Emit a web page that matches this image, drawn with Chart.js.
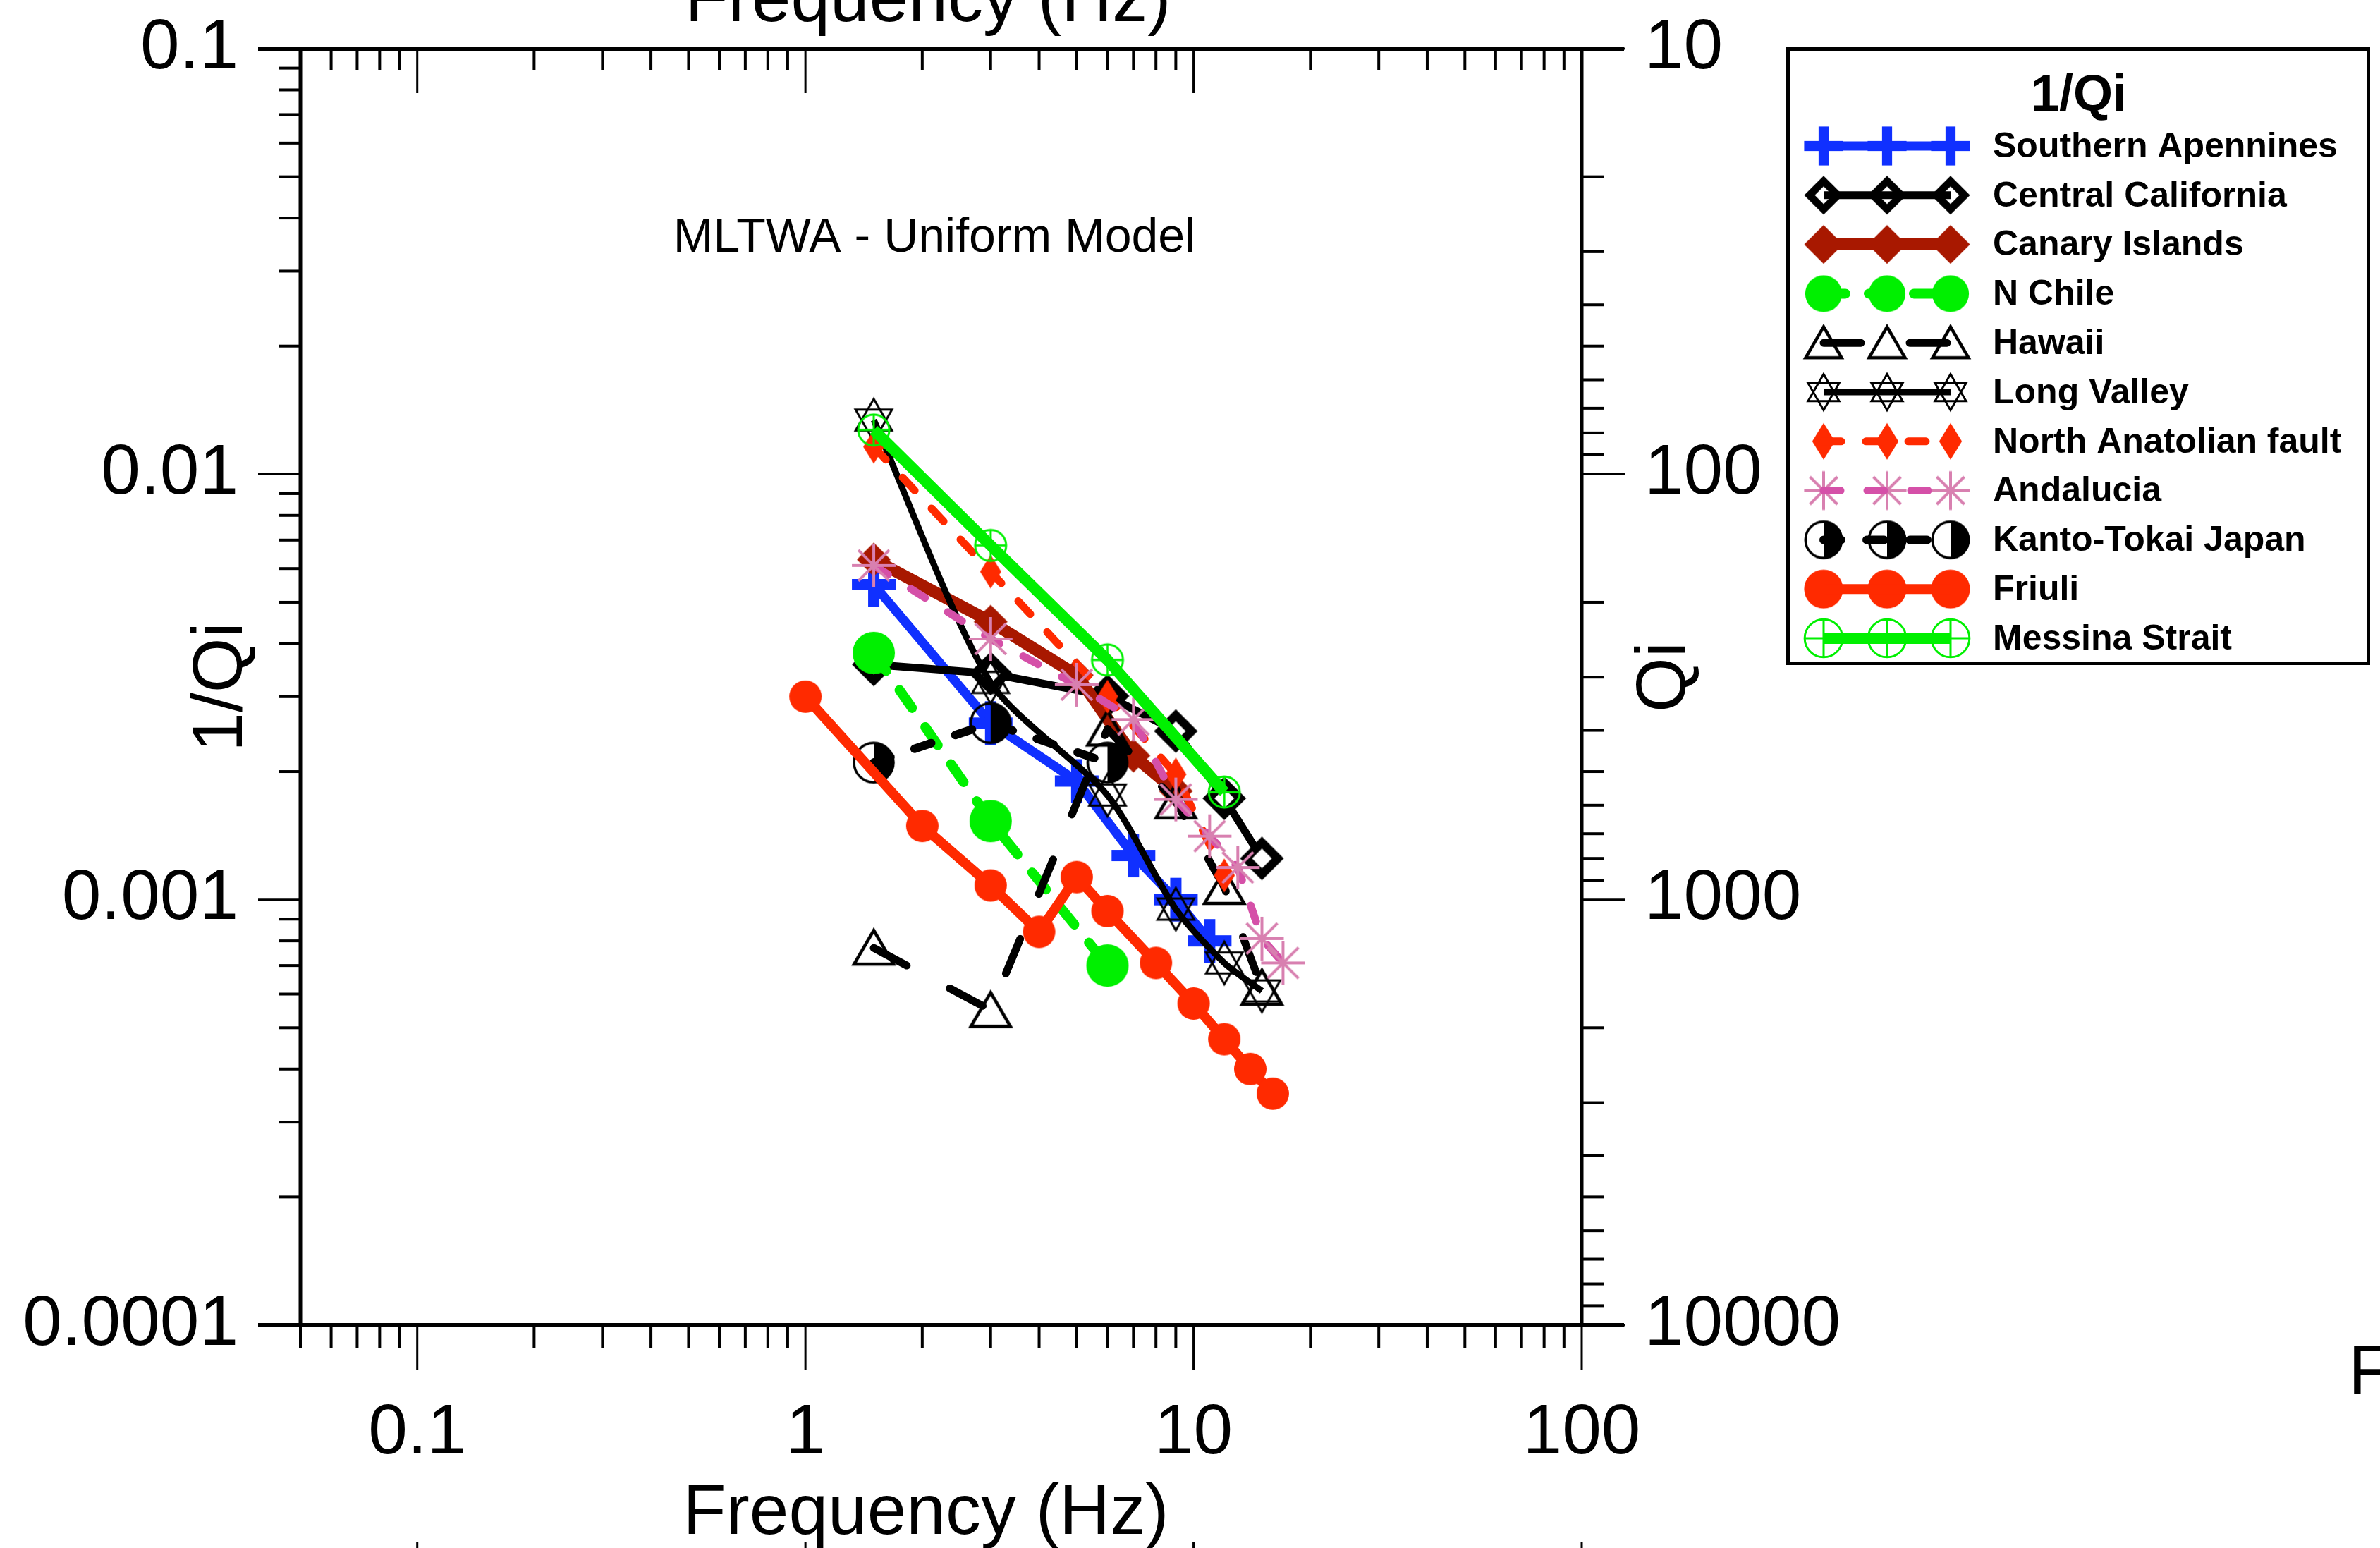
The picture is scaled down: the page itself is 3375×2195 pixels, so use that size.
<!DOCTYPE html>
<html>
<head>
<meta charset="utf-8">
<script src="https://cdn.jsdelivr.net/npm/chart.js@4.4.0/dist/chart.umd.min.js"></script>
<style>
html,body{margin:0;padding:0;background:#fff;}
canvas{display:block;}
</style>
</head>
<body>
<canvas id="c" width="3375" height="2195" style="width:3375px;height:2195px"></canvas>
<script>
// ---------------- DATA ----------------
const legendTitle = '1/Qi';
const annotationText = 'MLTWA - Uniform Model';
const xAxisTitle = 'Frequency (Hz)';
const yAxisTitle = '1/Qi';
const qAxisTitle = 'Qi';

const xTickValues = [0.1, 1, 10, 100];
const xTickLabels = ['0.1', '1', '10', '100'];
const yTickValues = [0.1, 0.01, 0.001, 0.0001];
const yTickLabels = ['0.1', '0.01', '0.001', '0.0001'];
const qTickValues = [10, 100, 1000, 10000];
const qTickLabels = ['10', '100', '1000', '10000'];

const freqSouthernApennines = [1.5, 3, 5, 7, 9, 11];
const invQSouthernApennines = [0.0055, 0.0026, 0.0019, 0.00127, 0.00100, 0.00080];

const freqCentralCalifornia = [1.5, 3, 6, 9, 12, 15];
const invQCentralCalifornia = [0.00357, 0.00340, 0.00301, 0.00249, 0.00173, 0.00125];

const freqCanaryIslands = [1.5, 3, 5, 7, 9];
const invQCanaryIslands = [0.0063, 0.0045, 0.00337, 0.00218, 0.00180];

const freqNChile = [1.5, 3, 6];
const invQNChile = [0.0038, 0.00153, 0.00070];

const freqHawaii = [1.5, 3, 6, 9, 12, 15];
const invQHawaii = [0.00077, 0.00055, 0.00252, 0.00170, 0.00107, 0.00062];

const freqLongValley = [1.5, 3, 6, 9, 12, 15];
const invQLongValley = [0.0134, 0.00324, 0.00176, 0.00095, 0.00071, 0.00061];

const freqNorthAnatolian = [1.5, 3, 6, 9, 12];
const invQNorthAnatolian = [0.0116, 0.0059, 0.0030, 0.00197, 0.00114];

const freqAndalucia = [1.5, 3, 5, 7, 9, 11, 13, 15, 17];
const invQAndalucia = [0.0061, 0.0041, 0.0032, 0.00265, 0.00172, 0.00141, 0.00119, 0.00081, 0.00071];

const freqKantoTokai = [1.5, 3, 6];
const invQKantoTokai = [0.0021, 0.0026, 0.0021];

const freqFriuli = [1, 2, 3, 4, 5, 6, 8, 10, 12, 14, 16];
const invQFriuli = [0.0030, 0.00149, 0.00108, 0.00084, 0.00113, 0.00094, 0.00071, 0.00057, 0.00047, 0.00040, 0.00035];

const freqMessina = [1.5, 3, 6, 12];
const invQMessina = [0.0127, 0.0068, 0.00366, 0.00179];

const series = [
  {name: 'Southern Apennines', freq: freqSouthernApennines, val: invQSouthernApennines},
  {name: 'Central California', freq: freqCentralCalifornia, val: invQCentralCalifornia},
  {name: 'Canary Islands', freq: freqCanaryIslands, val: invQCanaryIslands},
  {name: 'N Chile', freq: freqNChile, val: invQNChile},
  {name: 'Hawaii', freq: freqHawaii, val: invQHawaii},
  {name: 'Long Valley', freq: freqLongValley, val: invQLongValley},
  {name: 'North Anatolian fault', freq: freqNorthAnatolian, val: invQNorthAnatolian},
  {name: 'Andalucia', freq: freqAndalucia, val: invQAndalucia},
  {name: 'Kanto-Tokai Japan', freq: freqKantoTokai, val: invQKantoTokai},
  {name: 'Friuli', freq: freqFriuli, val: invQFriuli},
  {name: 'Messina Strait', freq: freqMessina, val: invQMessina}
];

// ---------------- STYLES ----------------
const FONT = "'Liberation Sans', Arial, Helvetica, sans-serif";
const styles = {
  'Southern Apennines':   {color: '#1030FF', width: 13, dash: [], marker: 'plus', lg: 0.89},
  'Central California':   {color: '#000000', width: 11, dash: [], marker: 'diamondOpen', lg: 0.89},
  'Canary Islands':       {color: '#A81800', width: 17, dash: [], marker: 'diamondFill', lg: 1.15},
  'N Chile':              {color: '#00F000', width: 14, dash: [31, 33], marker: 'dotGreen', lg: 0.87},
  'Hawaii':               {color: '#000000', width: 11, dash: [53, 69], marker: 'triangle', lg: 0.91},
  'Long Valley':          {color: '#000000', width: 9, dash: [], marker: 'star', lg: 0.85, tension: 0.25},
  'North Anatolian fault':{color: '#FF2A00', width: 11, dash: [25, 35], marker: 'thinDiamond', lg: 1.08},
  'Andalucia':            {color: '#D550A8', width: 11, dash: [24, 38], marker: 'asterisk', lg: 0.89},
  'Kanto-Tokai Japan':    {color: '#000000', width: 12, dash: [25, 36], marker: 'half', lg: 0.92},
  'Friuli':               {color: '#FF2A00', width: 14, dash: [], marker: 'dotRed', lg: 1.2},
  'Messina Strait':       {color: '#00F000', width: 16, dash: [], marker: 'circleCross', lg: 1.22}
};

function poly(ctx, pts) {
  ctx.beginPath();
  ctx.moveTo(pts[0][0], pts[0][1]);
  for (let i = 1; i < pts.length; i++) ctx.lineTo(pts[i][0], pts[i][1]);
  ctx.closePath();
}
function drawMarkerShape(ctx, kind, s) {
  switch (kind) {
    case 'plus': {
      ctx.fillStyle = '#1030FF';
      const L = 31 * s, T = 8 * s;
      ctx.fillRect(-L, -T, 2 * L, 2 * T);
      ctx.fillRect(-T, -L, 2 * T, 2 * L);
      break;
    }
    case 'diamondOpen': {
      ctx.fillStyle = '#000';
      poly(ctx, [[0, -31 * s], [31 * s, 0], [0, 31 * s], [-31 * s, 0]]); ctx.fill();
      ctx.fillStyle = '#fff';
      poly(ctx, [[0, -14 * s], [14 * s, 0], [0, 14 * s], [-14 * s, 0]]); ctx.fill();
      break;
    }
    case 'diamondFill':
      ctx.fillStyle = '#A81800';
      poly(ctx, [[0, -24 * s], [24 * s, 0], [0, 24 * s], [-24 * s, 0]]); ctx.fill();
      break;
    case 'dotGreen':
      ctx.fillStyle = '#00F000';
      ctx.beginPath(); ctx.arc(0, 0, 30 * s, 0, Math.PI * 2); ctx.fill();
      break;
    case 'triangle':
      ctx.strokeStyle = '#000'; ctx.lineWidth = 4.5; ctx.lineJoin = 'miter';
      poly(ctx, [[0, -25 * s], [28 * s, 23 * s], [-28 * s, 23 * s]]); ctx.stroke();
      break;
    case 'star': {
      ctx.strokeStyle = '#000'; ctx.lineWidth = 3; ctx.lineJoin = 'miter';
      const r = 30 * s;
      const t1 = [], t2 = [];
      for (let k = 0; k < 3; k++) {
        const a1 = -Math.PI / 2 + k * 2 * Math.PI / 3;
        const a2 = Math.PI / 2 + k * 2 * Math.PI / 3;
        t1.push([r * Math.cos(a1), r * Math.sin(a1)]);
        t2.push([r * Math.cos(a2), r * Math.sin(a2)]);
      }
      poly(ctx, t1); ctx.stroke();
      poly(ctx, t2); ctx.stroke();
      break;
    }
    case 'thinDiamond':
      ctx.fillStyle = '#FF2A00';
      poly(ctx, [[0, -24 * s], [15 * s, 0], [0, 24 * s], [-15 * s, 0]]); ctx.fill();
      break;
    case 'asterisk': {
      ctx.strokeStyle = '#D880B0'; ctx.lineWidth = 4; ctx.lineCap = 'butt';
      const r = 31 * s;
      ctx.beginPath();
      for (let k = 0; k < 4; k++) {
        const a = k * Math.PI / 4;
        ctx.moveTo(-r * Math.cos(a), -r * Math.sin(a));
        ctx.lineTo(r * Math.cos(a), r * Math.sin(a));
      }
      ctx.stroke();
      break;
    }
    case 'half': {
      const r = 28 * s;
      ctx.fillStyle = '#000';
      ctx.beginPath(); ctx.moveTo(0, -r); ctx.arc(0, 0, r, -Math.PI / 2, Math.PI / 2); ctx.closePath(); ctx.fill();
      ctx.strokeStyle = '#000'; ctx.lineWidth = 3.5;
      ctx.beginPath(); ctx.arc(0, 0, r, 0, Math.PI * 2); ctx.stroke();
      break;
    }
    case 'dotRed':
      ctx.fillStyle = '#FF2A00';
      ctx.beginPath(); ctx.arc(0, 0, 23 * s, 0, Math.PI * 2); ctx.fill();
      break;
    case 'circleCross': {
      const r = 22 * s;
      ctx.strokeStyle = '#00F000'; ctx.lineWidth = 3;
      ctx.beginPath(); ctx.arc(0, 0, r, 0, Math.PI * 2); ctx.stroke();
      ctx.beginPath(); ctx.moveTo(-r, 0); ctx.lineTo(r, 0); ctx.moveTo(0, -r); ctx.lineTo(0, r); ctx.stroke();
      break;
    }
  }
}
function makeMarker(kind, s) {
  const size = Math.ceil(84 * s / 2) * 2;
  const c = document.createElement('canvas');
  c.width = size; c.height = size;
  const ctx = c.getContext('2d');
  ctx.translate(size / 2, size / 2);
  drawMarkerShape(ctx, kind, s);
  return c;
}

function decadeTicks(min, max) {
  const out = [];
  for (let e = Math.floor(Math.log10(min)) - 1; e <= Math.ceil(Math.log10(max)); e++) {
    for (let m = 1; m <= 9; m++) {
      const v = m * Math.pow(10, e);
      if (v >= min * (1 - 1e-9) && v <= max * (1 + 1e-9)) out.push(v);
    }
  }
  return out;
}
function matchIndex(v, vals) {
  for (let i = 0; i < vals.length; i++) {
    if (Math.abs(Math.log10(v) - Math.log10(vals[i])) < 1e-6) return i;
  }
  return -1;
}
function labelFor(v, vals, labels) {
  const i = matchIndex(v, vals);
  return i >= 0 ? labels[i] : '';
}

const xMin = 0.05, xMax = 100, yMin = 0.0001, yMax = 0.1, qMin = 10, qMax = 10000;
const xTicksAll = decadeTicks(xMin, xMax);
const yTicksAll = decadeTicks(yMin, yMax);
const qTicksAll = decadeTicks(qMin, qMax);

const legendMarkers = [];
const datasets = series.map((s, i) => {
  const st = styles[s.name];
  legendMarkers.push(makeMarker(st.marker, st.lg));
  return {
    label: s.name,
    data: s.freq.map((f, j) => ({x: f, y: s.val[j]})),
    borderColor: st.color,
    backgroundColor: st.color,
    borderWidth: st.width,
    borderDash: st.dash,
    borderCapStyle: st.dash.length ? 'round' : 'butt',
    borderJoinStyle: 'round',
    pointStyle: makeMarker(st.marker, 1),
    pointRadius: 30,
    pointHoverRadius: 30,
    tension: st.tension || 0,
    fill: false,
    order: series.length - i,
    xAxisID: 'x',
    yAxisID: 'y'
  };
});

function line(ctx, x1, y1, x2, y2) {
  ctx.beginPath(); ctx.moveTo(x1, y1); ctx.lineTo(x2, y2); ctx.stroke();
}

const decorPlugin = {
  id: 'decor',
  afterDraw(chart) {
    const ctx = chart.ctx;
    const a = chart.chartArea;
    const sx = chart.scales.x, sy = chart.scales.y, sq = chart.scales.yQ;
    ctx.save();
    ctx.strokeStyle = '#000';
    ctx.lineCap = 'butt';
    // x ticks: bottom outward, top inward
    sx.ticks.forEach(t => {
      const px = sx.getPixelForValue(t.value);
      const major = matchIndex(t.value, xTickValues) >= 0;
      ctx.lineWidth = major ? 3 : 4;
      line(ctx, px, a.bottom, px, a.bottom + (major ? 64 : 32));
      line(ctx, px, a.top, px, a.top + (major ? 63 : 30));
    });
    // left ticks outward
    sy.ticks.forEach(t => {
      const py = sy.getPixelForValue(t.value);
      const major = matchIndex(t.value, yTickValues) >= 0;
      ctx.lineWidth = major ? 3 : 4;
      line(ctx, a.left, py, a.left - (major ? 60 : 30), py);
    });
    // right ticks outward
    sq.ticks.forEach(t => {
      const py = sq.getPixelForValue(t.value);
      const major = matchIndex(t.value, qTickValues) >= 0;
      ctx.lineWidth = major ? 3 : 4;
      line(ctx, a.right, py, a.right + (major ? 62 : 31), py);
    });
    // frame
    ctx.lineWidth = 6;
    line(ctx, a.left - 60, a.top, a.right + 60, a.top);
    line(ctx, a.left - 60, a.bottom, a.right + 60, a.bottom);
    ctx.lineWidth = 5;
    line(ctx, a.left, a.top, a.left, a.bottom);
    line(ctx, a.right, a.top, a.right, a.bottom);

    // stray tick marks from the panel below
    ctx.lineWidth = 3;
    xTickValues.forEach(v => {
      const px = sx.getPixelForValue(v);
      line(ctx, px, 2186, px, 2195);
    });

    ctx.fillStyle = '#000';
    // bottom axis title
    ctx.font = '100px ' + FONT;
    ctx.textAlign = 'center';
    ctx.textBaseline = 'alphabetic';
    ctx.fillText(xAxisTitle, 1313, 2175);

    // right axis title (reads bottom to top)
    ctx.save();
    ctx.translate(2362, 960);
    ctx.rotate(-Math.PI / 2);
    ctx.font = '100px ' + FONT;
    ctx.textAlign = 'center';
    ctx.textBaseline = 'middle';
    ctx.fillText(qAxisTitle, 0, 0);
    ctx.restore();

    // annotation
    ctx.font = '68px ' + FONT;
    ctx.textAlign = 'center';
    ctx.textBaseline = 'alphabetic';
    ctx.fillText(annotationText, 1325, 357);

    // stray texts of neighbouring panels
    ctx.font = '100px ' + FONT;
    ctx.textAlign = 'center';
    ctx.fillText(xAxisTitle, 1316, 30);
    ctx.textAlign = 'left';
    ctx.fillText('F', 3330, 1977);

    // legend
    ctx.lineWidth = 5;
    ctx.strokeStyle = '#000';
    ctx.strokeRect(2535.5, 69.5, 823, 871);
    ctx.font = 'bold 72px ' + FONT;
    ctx.textAlign = 'center';
    ctx.textBaseline = 'middle';
    ctx.fillText(legendTitle, 2948, 137);
    const mxs = [2586, 2676, 2766];
    chart.data.datasets.forEach((ds, i) => {
      const y = 207 + i * 69.8;
      const mk = legendMarkers[i];
      mxs.forEach(mx => ctx.drawImage(mk, mx - mk.width / 2, y - mk.height / 2));
      ctx.save();
      ctx.strokeStyle = ds.borderColor;
      ctx.lineWidth = ds.borderWidth;
      ctx.setLineDash(ds.borderDash);
      ctx.lineCap = ds.borderCapStyle;
      line(ctx, mxs[0], y, mxs[2], y);
      ctx.restore();
      ctx.fillStyle = '#000';
      ctx.font = 'bold 50px ' + FONT;
      ctx.textAlign = 'left';
      ctx.textBaseline = 'middle';
      ctx.fillText(ds.label, 2826, y + 2);
    });
    ctx.restore();
  }
};

Chart.defaults.font.family = FONT;
Chart.defaults.color = '#000';

new Chart(document.getElementById('c'), {
  type: 'line',
  data: {datasets},
  options: {
    responsive: false,
    maintainAspectRatio: false,
    devicePixelRatio: 1,
    animation: false,
    events: [],
    layout: {padding: 0},
    plugins: {legend: {display: false}, tooltip: {enabled: false}},
    scales: {
      x: {
        type: 'logarithmic', position: 'bottom', min: xMin, max: xMax,
        afterBuildTicks: sc => { sc.ticks = xTicksAll.map(v => ({value: v})); },
        afterFit: sc => { sc.height = 316; },
        grid: {display: false, drawTicks: true, tickLength: 94},
        border: {display: false},
        ticks: {
          autoSkip: false, maxRotation: 0, minRotation: 0, padding: 0,
          font: {size: 100, family: FONT}, color: '#000',
          callback: v => labelFor(v, xTickValues, xTickLabels)
        }
      },
      xTop: {
        type: 'logarithmic', position: 'top', min: xMin, max: xMax,
        afterFit: sc => { sc.height = 69; },
        grid: {display: false, drawTicks: false},
        border: {display: false},
        ticks: {display: false, padding: 0}
      },
      y: {
        type: 'logarithmic', position: 'left', min: yMin, max: yMax,
        afterBuildTicks: sc => { sc.ticks = yTicksAll.map(v => ({value: v})); },
        afterFit: sc => { sc.width = 426; },
        grid: {display: false, drawTicks: true, tickLength: 88},
        border: {display: false},
        ticks: {
          autoSkip: false, padding: 0,
          font: {size: 100, family: FONT}, color: '#000',
          callback: v => labelFor(v, yTickValues, yTickLabels)
        },
        title: {display: true, text: yAxisTitle, color: '#000',
                font: {size: 100, family: FONT, lineHeight: 1}, padding: {top: 265, bottom: 0}}
      },
      yQ: {
        type: 'logarithmic', position: 'right', min: qMin, max: qMax, reverse: true,
        afterBuildTicks: sc => { sc.ticks = qTicksAll.map(v => ({value: v})); },
        afterFit: sc => { sc.width = 1132; },
        grid: {display: false, drawTicks: true, tickLength: 89},
        border: {display: false},
        ticks: {
          autoSkip: false, padding: 0,
          font: {size: 100, family: FONT}, color: '#000',
          callback: v => labelFor(v, qTickValues, qTickLabels)
        }
      }
    }
  },
  plugins: [decorPlugin]
});
</script>
</body>
</html>
